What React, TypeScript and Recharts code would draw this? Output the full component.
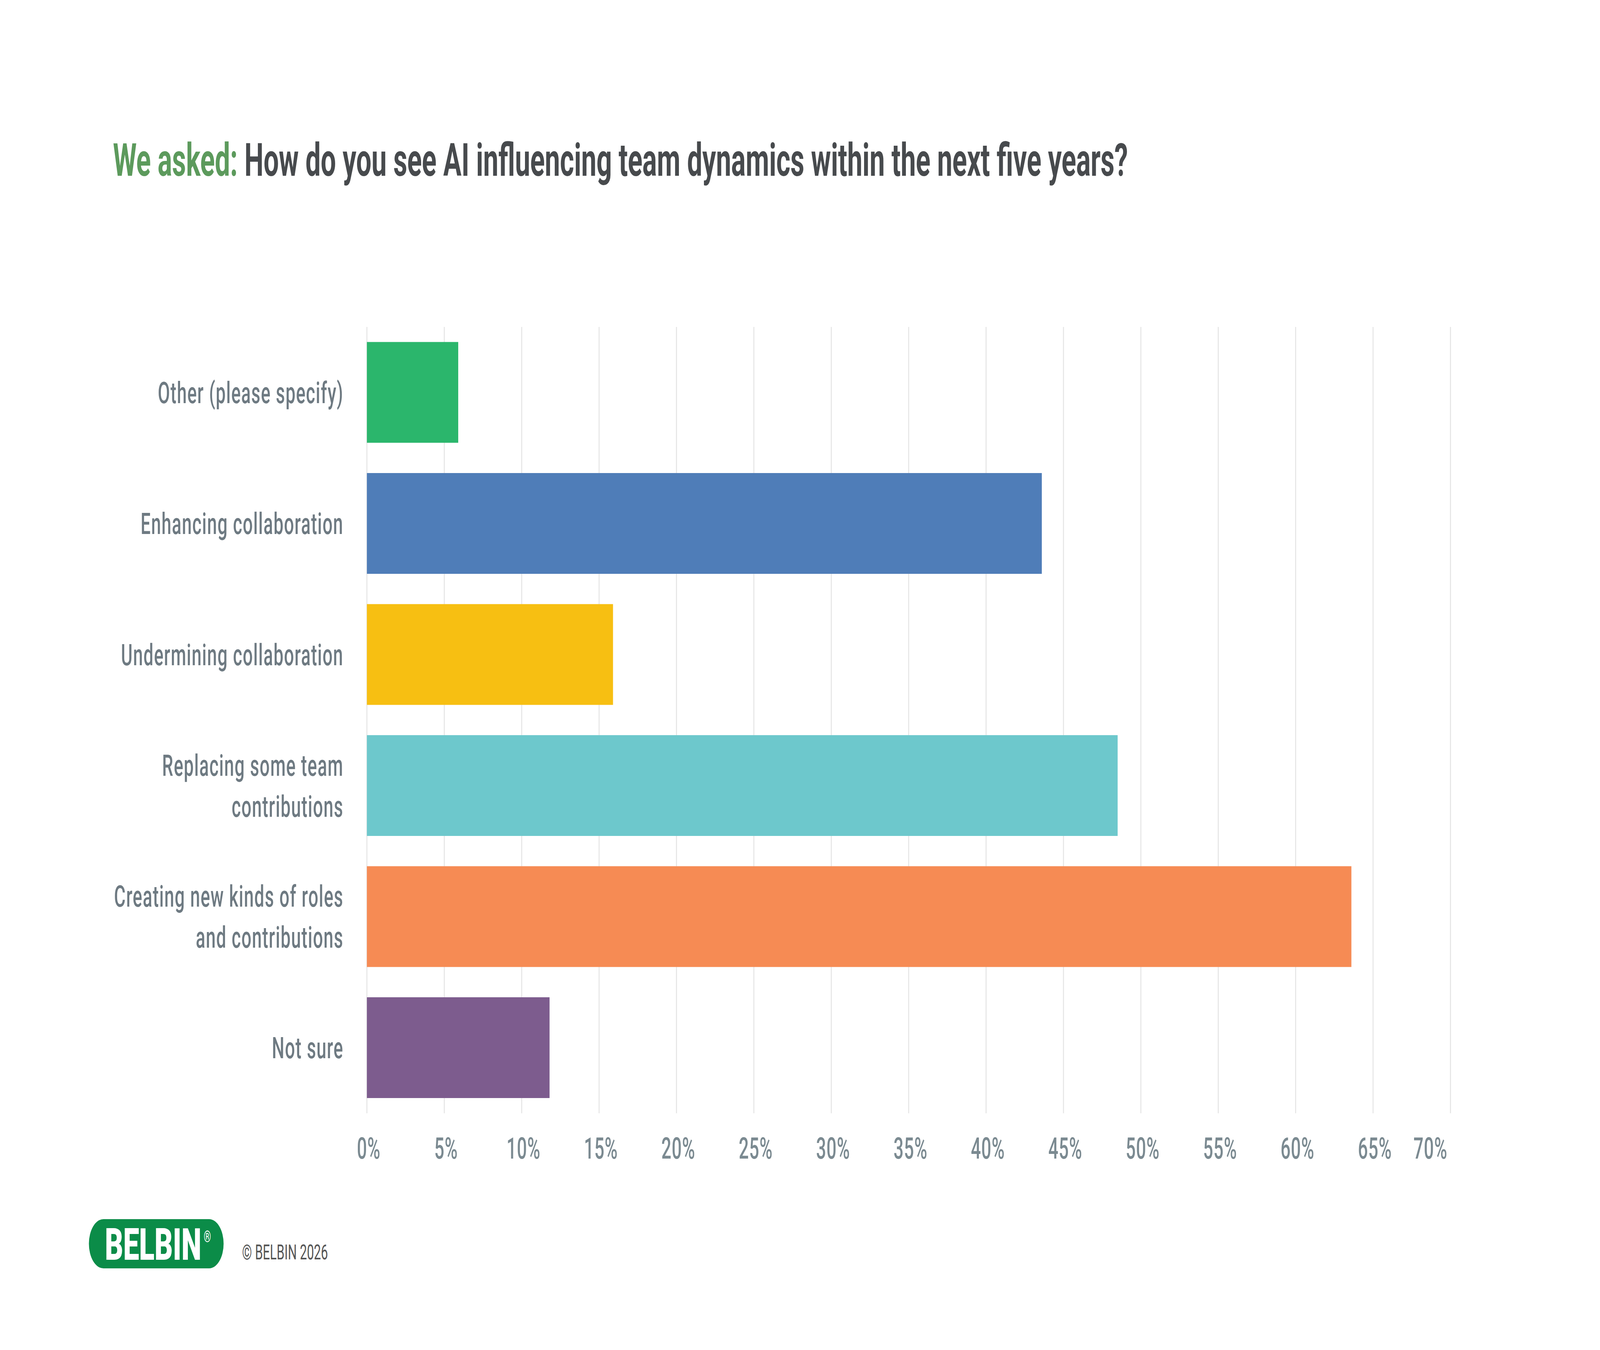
import { BarChart, Bar, Cell, XAxis, YAxis, CartesianGrid } from 'recharts';

const categories = [
  'Other (please specify)',
  'Enhancing collaboration',
  'Undermining collaboration',
  'Replacing some team\ncontributions',
  'Creating new kinds of roles\nand contributions',
  'Not sure',
];

const percentages = [5.9, 43.6, 15.9, 48.5, 63.6, 11.8];

const barColors = ['#2bb66c', '#4f7db8', '#f7bf12', '#6dc8cc', '#f68b54', '#7d5c8e'];

const xTicks = [0, 5, 10, 15, 20, 25, 30, 35, 40, 45, 50, 55, 60, 65, 70];

const data = categories.map((name, i) => ({ name, value: percentages[i] }));

// design size; the drawing is scaled to whatever viewport the browser really gives
const W = 6912;
const H = 3456;
const LABEL_COLOR = '#6e7a82';
const FONT = 'Roboto, "Noto Sans", sans-serif';

function CategoryTick({ x, y, payload }: any) {
  const lines = String(payload.value).split('\n');
  const fs = 76;
  const lh = 105;
  const first = y + fs * 0.355 - ((lines.length - 1) * lh) / 2;
  return (
    <text
      x={x}
      y={first}
      textAnchor="end"
      fill={LABEL_COLOR}
      fontSize={fs}
      fontWeight={500}
      letterSpacing={2.5}
      fontFamily={FONT}
    >
      {lines.map((line, i) => (
        <tspan key={i} x={x} y={first + i * lh}>
          {line}
        </tspan>
      ))}
    </text>
  );
}

function PercentTick({ x, y, payload }: any) {
  const last = payload.value === xTicks[xTicks.length - 1];
  return (
    <text
      x={last ? x - 13 : x + 8}
      y={y}
      textAnchor={last ? 'end' : 'middle'}
      fill="#7b8a91"
      fontSize={76}
      fontWeight={500}
      letterSpacing={1.5}
      fontFamily={FONT}
    >
      {`${payload.value}%`}
    </text>
  );
}

export default function App() {
  const vw = typeof window !== 'undefined' ? window.innerWidth : W;
  const vh = typeof window !== 'undefined' ? window.innerHeight : H;
  const sx = vw / W;
  const sy = vh / H;
  return (
    <div
      style={{
        position: 'absolute',
        left: 0,
        top: 0,
        width: vw,
        height: vh,
        overflow: 'hidden',
        background: '#fff',
      }}
    >
      <div
        style={{
          position: 'absolute',
          left: 0,
          top: 0,
          width: W,
          height: H,
          transform: `scale(${sx}, ${sy})`,
          transformOrigin: '0 0',
        }}
      >
        <div style={{ position: 'absolute', left: 0, top: 0 }}>
          <BarChart
            width={W}
            height={H}
            data={data}
            layout="vertical"
            barCategoryGap="11.5%"
            margin={{ top: 837, right: 646, bottom: 406, left: 0 }}
          >
            <CartesianGrid horizontal={false} stroke="#e3e3e3" strokeWidth={4} />
            <XAxis
              type="number"
              domain={[0, 70]}
              ticks={xTicks}
              axisLine={false}
              tickLine={false}
              height={200}
              tick={<PercentTick />}
              tickMargin={110}
              interval={0}
            />
            <YAxis
              type="category"
              dataKey="name"
              width={1585}
              axisLine={false}
              tickLine={false}
              tickMargin={95}
              tick={<CategoryTick />}
              interval={0}
            />
            <Bar dataKey="value" isAnimationActive={false}>
              {data.map((entry, i) => (
                <Cell key={`cell-${i}`} fill={barColors[i]} />
              ))}
            </Bar>
          </BarChart>
        </div>
        <svg width={W} height={H} style={{ position: 'absolute', left: 0, top: 0, pointerEvents: 'none' }}>
          <text x={488} y={450} fontSize={117} fontWeight={700} fontFamily={FONT}>
            <tspan fill="#5c9a5c">We asked: </tspan>
            <tspan fill="#474a4d">How do you see AI influencing team dynamics within the next five years?</tspan>
          </text>
          {/* logo */}
          <rect x={384} y={3121} width={582} height={126} rx={63} fill="#0b8c48" />
          <text
            x={453}
            y={3225}
            fontSize={114}
            fontWeight={900}
            fontFamily={FONT}
            fill="#fff"
            textLength={417}
            lengthAdjust="spacingAndGlyphs"
          >
            BELBIN
          </text>
          <text x={880} y={3180} fontSize={40} fontFamily={FONT} fill="#fff">
            ®
          </text>
          <text x={1046} y={3224} fontSize={54} fontFamily={FONT} fill="#555">
            © BELBIN 2026
          </text>
        </svg>
      </div>
    </div>
  );
}
